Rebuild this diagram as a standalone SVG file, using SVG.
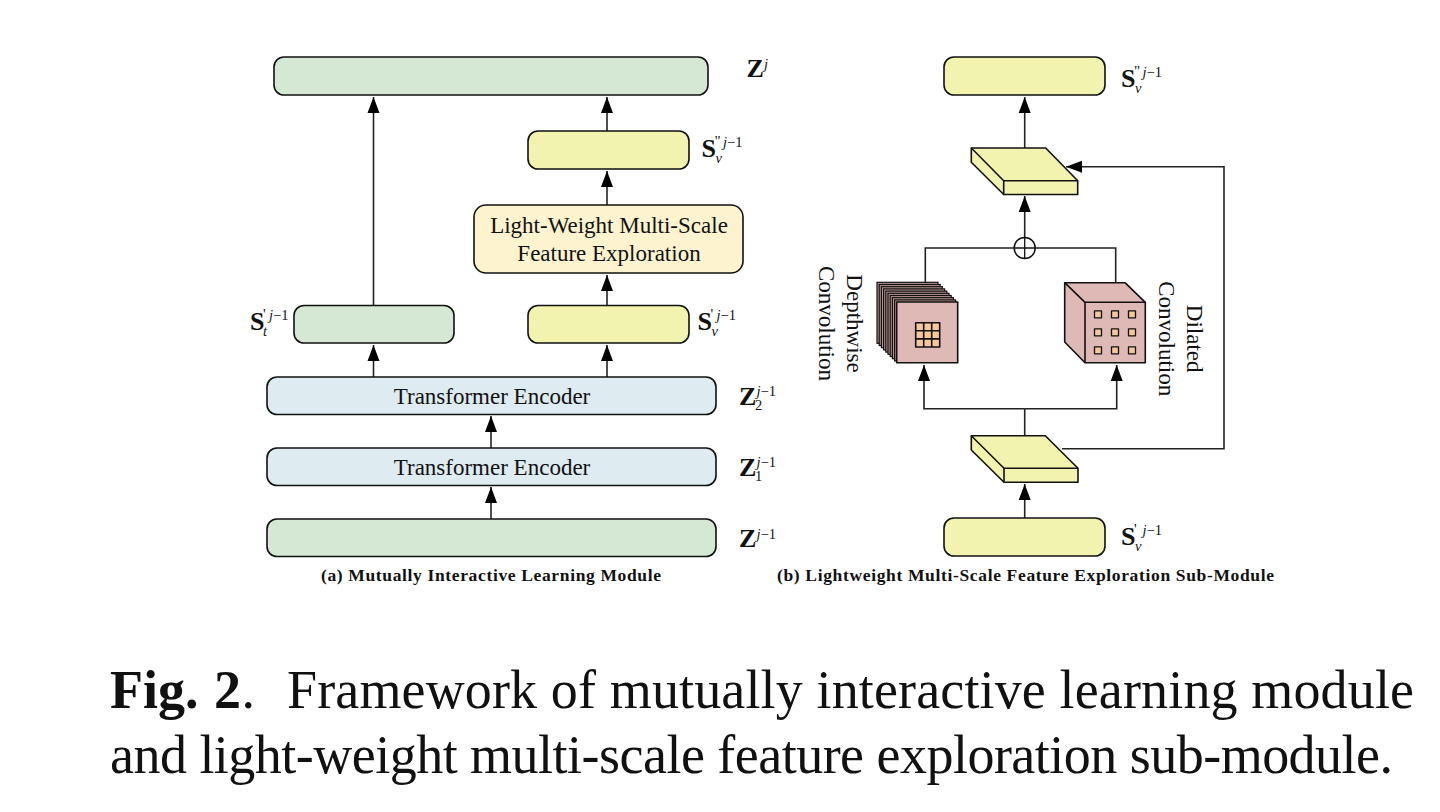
<svg xmlns="http://www.w3.org/2000/svg" xmlns:xlink="http://www.w3.org/1999/xlink" width="1440" height="812" viewBox="0 0 1440 812">
<style>
text{font-family:"Liberation Serif","Times New Roman",serif;fill:#111}
.box{stroke:#111;stroke-width:1.6}
.g{fill:#d5e8d4}.y{fill:#f1f3ae}.b{fill:#deebf1}.c{fill:#fdf3cf}.p{fill:#deb9b6}.o{fill:#f6c797}
.s{stroke:#111;stroke-width:1.6;stroke-linejoin:round}
.l{fill:none;stroke:#222;stroke-width:1.6}
.t{font-size:23px;text-anchor:middle}
.rt{font-size:23px;text-anchor:middle}
.cap{font-size:17.5px;font-weight:bold}
.fig{font-size:54px}
.M{font-size:26px;font-weight:bold}
.sub{font-size:14.5px;font-style:italic}
.sup{font-size:14.5px}
.pr{font-size:15px}
</style>
<defs>
<marker id="a" markerUnits="userSpaceOnUse" markerWidth="16" markerHeight="14" viewBox="0 0 16 14" refX="16" refY="7" orient="auto"><path d="M0,1 L16,7 L0,13 Z" fill="#000"/></marker>
<rect id="dl" width="61" height="61" style="fill:#b79491;stroke:#111;stroke-width:1.2"/>
</defs>
<rect width="1440" height="812" fill="#fff"/>

<g id="connectors" class="l">
<path d="M373.5,305 V97" marker-end="url(#a)"/>
<path d="M607,131 V97" marker-end="url(#a)"/>
<path d="M607,205 V171" marker-end="url(#a)"/>
<path d="M607,305 V275" marker-end="url(#a)"/>
<path d="M607,377 V345" marker-end="url(#a)"/>
<path d="M373.5,377 V345" marker-end="url(#a)"/>
<path d="M491,448 V416" marker-end="url(#a)"/>
<path d="M491,519 V487" marker-end="url(#a)"/>
<path d="M1024.7,148 V97" marker-end="url(#a)"/>
<path d="M1024.7,248 V196" marker-end="url(#a)"/>
<path d="M1024.7,518 V484" marker-end="url(#a)"/>
<path d="M1024.7,436 V408.7"/>
<path d="M1024.7,408.7 H924 V365" marker-end="url(#a)"/>
<path d="M1024.7,408.7 H1116.7 V365" marker-end="url(#a)"/>
<path d="M925.3,283 V248 H1115.7 V283"/>
<path d="M1062,448.7 H1224 V166.7 H1066" marker-end="url(#a)"/>
</g>

<g id="z-j"><rect class="box g" x="274" y="57" width="434" height="38" rx="10"/></g>
<g id="s-v-pp"><rect class="box y" x="528" y="131" width="161" height="38" rx="10"/></g>
<g id="lmsfe"><rect class="box c" x="474" y="205" width="269" height="68" rx="12"/>
<text class="t" x="609" y="233">Light-Weight Multi-Scale</text>
<text class="t" x="609" y="261">Feature Exploration</text></g>
<g id="s-t-p"><rect class="box g" x="294" y="305.5" width="160" height="37.5" rx="10"/></g>
<g id="s-v-p"><rect class="box y" x="528" y="305.5" width="161" height="37.5" rx="10"/></g>
<g id="te2"><rect class="box b" x="267" y="377" width="449" height="37.5" rx="10"/>
<text class="t" x="492" y="404">Transformer Encoder</text></g>
<g id="te1"><rect class="box b" x="267" y="448" width="449" height="37.5" rx="10"/>
<text class="t" x="492" y="475">Transformer Encoder</text></g>
<g id="z"><rect class="box g" x="267" y="519" width="449" height="37.5" rx="10"/></g>

<g id="out-b"><rect class="box y" x="944" y="57" width="161" height="38" rx="10"/></g>
<g id="in-b"><rect class="box y" x="944" y="518" width="161" height="38" rx="10"/></g>

<g id="slab-top">
<path class="y s" d="M971.3,148 H1045.7 L1077.7,180.7 V194.5 H1003.7 L971.3,162.3 Z"/>
<path class="s" fill="none" d="M971.3,148 L1003.7,180.7 H1077.7 M1003.7,180.7 V194.5"/>
</g>
<g id="slab-bottom">
<path class="y s" d="M971.3,435.7 H1045.3 L1078,468.3 V482.3 H1004 L971.3,450 Z"/>
<path class="s" fill="none" d="M971.3,435.7 L1004,468.3 H1078 M1004,468.3 V482.3"/>
</g>

<g id="oplus"><circle cx="1024.7" cy="248" r="10.5" fill="#fff" stroke="#111" stroke-width="1.5"/>
<path d="M1014.2,248 H1035.2 M1024.7,237.5 V258.5" stroke="#111" stroke-width="1.3"/></g>

<g id="depthwise">
<use xlink:href="#dl" href="#dl" x="877" y="282.3"/>
<use xlink:href="#dl" href="#dl" x="879.2" y="284.5"/>
<use xlink:href="#dl" href="#dl" x="881.4" y="286.7"/>
<use xlink:href="#dl" href="#dl" x="883.6" y="288.9"/>
<use xlink:href="#dl" href="#dl" x="885.8" y="291.1"/>
<use xlink:href="#dl" href="#dl" x="888" y="293.3"/>
<use xlink:href="#dl" href="#dl" x="890.2" y="295.5"/>
<use xlink:href="#dl" href="#dl" x="892.4" y="297.7"/>
<use xlink:href="#dl" href="#dl" x="894.6" y="299.9"/>
<rect class="p s" x="896.7" y="302" width="61" height="60.7"/>
<rect class="o s" x="915.7" y="322.7" width="24" height="24.3"/>
<path class="s" fill="none" d="M923.7,322.7 V347 M931.7,322.7 V347 M915.7,330.8 H939.7 M915.7,338.9 H939.7"/>
</g>

<g id="dilated">
<path class="p s" d="M1064.7,282.7 H1125 L1145.3,302.3 V362.7 H1085 L1064.7,342 Z"/>
<path class="s" fill="none" d="M1064.7,282.7 L1085,302.3 H1145.3 M1085,302.3 V362.7"/>
<g class="o s" style="stroke-width:1.3">
<rect x="1094.5" y="310.8" width="7" height="7"/><rect x="1111.5" y="310.8" width="7" height="7"/><rect x="1128.5" y="310.8" width="7" height="7"/>
<rect x="1094.5" y="328.8" width="7" height="7"/><rect x="1111.5" y="328.8" width="7" height="7"/><rect x="1128.5" y="328.8" width="7" height="7"/>
<rect x="1094.5" y="346.8" width="7" height="7"/><rect x="1111.5" y="346.8" width="7" height="7"/><rect x="1128.5" y="346.8" width="7" height="7"/>
</g>
</g>

<g id="conv-labels">
<text class="rt" transform="translate(847,323.5) rotate(90)">Depthwise</text>
<text class="rt" transform="translate(819,323.5) rotate(90)">Convolution</text>
<text class="rt" transform="translate(1187,338.7) rotate(90)">Dilated</text>
<text class="rt" transform="translate(1159,338.7) rotate(90)">Convolution</text>
</g>

<g id="math">
<g transform="translate(746.5,77)"><text class="M">Z</text><text class="sub" x="17.5" y="-8">j</text></g>
<g transform="translate(701.5,157)"><text class="M">S</text><text class="pr" x="13" y="-11">"</text><text class="sub" x="14" y="6">v</text><text class="sup" x="21.5" y="-10"><tspan class="sub">j</tspan>−1</text></g>
<g transform="translate(250,330)"><text class="M">S</text><text class="pr" x="13" y="-11">'</text><text class="sub" x="13" y="6">t</text><text class="sup" x="19" y="-10"><tspan class="sub">j</tspan>−1</text></g>
<g transform="translate(697.5,330)"><text class="M">S</text><text class="pr" x="13" y="-11">'</text><text class="sub" x="14" y="6">v</text><text class="sup" x="19" y="-10"><tspan class="sub">j</tspan>−1</text></g>
<g transform="translate(739,405)"><text class="M">Z</text><text class="sup" x="16" y="5">2</text><text class="sup" x="17.5" y="-9"><tspan class="sub">j</tspan>−1</text></g>
<g transform="translate(739,476)"><text class="M">Z</text><text class="sup" x="16" y="5">1</text><text class="sup" x="17.5" y="-9"><tspan class="sub">j</tspan>−1</text></g>
<g transform="translate(739,547)"><text class="M">Z</text><text class="sup" x="17.5" y="-8"><tspan class="sub">j</tspan>−1</text></g>
<g transform="translate(1121,87)"><text class="M">S</text><text class="pr" x="13" y="-11">"</text><text class="sub" x="14" y="6">v</text><text class="sup" x="21.5" y="-10"><tspan class="sub">j</tspan>−1</text></g>
<g transform="translate(1121,545)"><text class="M">S</text><text class="pr" x="13" y="-11">'</text><text class="sub" x="14" y="6">v</text><text class="sup" x="21.5" y="-10"><tspan class="sub">j</tspan>−1</text></g>
</g>

<g id="captions">
<text class="cap" x="321" y="581" textLength="340" lengthAdjust="spacing">(a) Mutually Interactive Learning Module</text>
<text class="cap" x="777" y="581" textLength="497" lengthAdjust="spacing">(b) Lightweight Multi-Scale Feature Exploration Sub-Module</text>
<text class="fig" x="110" y="708" font-weight="bold" word-spacing="2">Fig. 2</text>
<text class="fig" x="241.5" y="708">.</text>
<text class="fig" x="287" y="708" textLength="1127" lengthAdjust="spacing">Framework of mutually interactive learning module</text>
<text class="fig" x="110" y="772.5" textLength="1283" lengthAdjust="spacing">and light-weight multi-scale feature exploration sub-module.</text>
</g>
</svg>
